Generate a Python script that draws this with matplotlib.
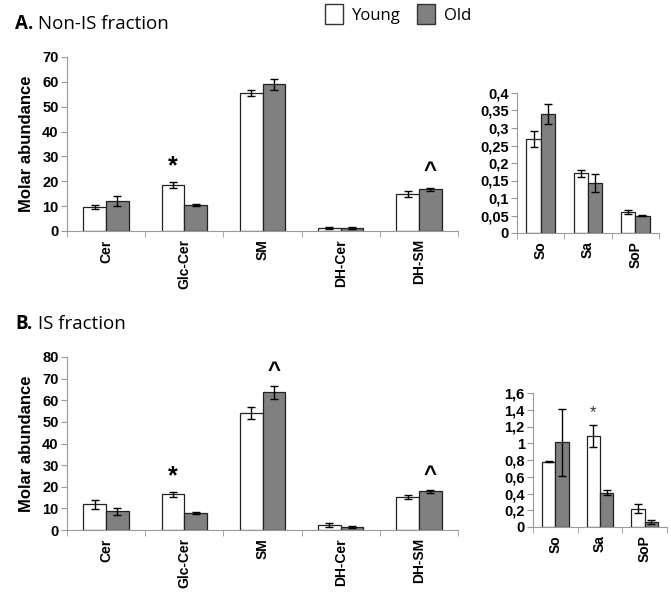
import numpy as np
import matplotlib
matplotlib.use('Agg')
import matplotlib.pyplot as plt
from matplotlib.ticker import FuncFormatter, FixedLocator
from matplotlib.patches import Patch

# data
lipids = ['Cer', 'Glc-Cer', 'SM', 'DH-Cer', 'DH-SM']
bases = ['So', 'Sa', 'SoP']

a_young = [9.5, 18.5, 55.5, 1.2, 15.0]
a_young_err = [0.8, 1.2, 1.3, 0.3, 1.2]
a_old = [12.0, 10.5, 59.0, 1.3, 16.8]
a_old_err = [2.0, 0.5, 2.3, 0.5, 0.6]
a_young_b = [0.268, 0.171, 0.060]
a_young_b_err = [0.023, 0.010, 0.005]
a_old_b = [0.340, 0.143, 0.050]
a_old_b_err = [0.028, 0.026, 0.001]

b_young = [11.8, 16.5, 54.0, 2.3, 15.2]
b_young_err = [2.2, 1.1, 2.8, 0.8, 0.8]
b_old = [8.7, 8.0, 63.7, 1.2, 17.9]
b_old_err = [1.7, 0.4, 3.0, 0.5, 0.6]
b_young_b = [0.78, 1.09, 0.22]
b_young_b_err = [0.005, 0.13, 0.05]
b_old_b = [1.01, 0.41, 0.06]
b_old_b_err = [0.40, 0.03, 0.025]

W, H = 671, 594
GREY = '#808080'
SPINE = '#999999'


def box(l, r, t, b):
    return [l / W, 1 - b / H, (r - l) / W, (b - t) / H]


def comma(v, pos):
    return ('%g' % round(v, 4)).replace('.', ',')


def bars(ax, cats, young, yerr, old, oerr, ymax, step, width=0.29):
    x = np.arange(len(cats))
    ek = dict(ecolor='black', elinewidth=1, capsize=3, capthick=1)
    ax.bar(x - width / 2, young, width, yerr=yerr, color='white',
           edgecolor='#222222', linewidth=0.9, error_kw=ek)
    ax.bar(x + width / 2, old, width, yerr=oerr, color=GREY,
           edgecolor='#222222', linewidth=0.9, error_kw=ek)
    ax.set_xlim(-0.5, len(cats) - 0.5)
    ax.set_ylim(0, ymax)
    ax.set_yticks(np.arange(0, ymax + step / 2, step))
    ax.yaxis.set_major_formatter(FuncFormatter(comma))
    ax.set_xticks(x)
    ax.set_xticklabels(cats, rotation=90, fontsize=10, fontweight='bold')
    ax.xaxis.set_minor_locator(FixedLocator(np.arange(-0.5, len(cats), 1)))
    ax.tick_params(axis='x', which='major', length=0, pad=6)
    ax.tick_params(axis='x', which='minor', length=4, color=SPINE)
    ax.tick_params(axis='y', length=4, color=SPINE, labelsize=10.5, pad=2)
    for lab in ax.get_yticklabels():
        lab.set_fontweight('bold')
    for s in ['top', 'right']:
        ax.spines[s].set_visible(False)
    for s in ['left', 'bottom']:
        ax.spines[s].set_color(SPINE)
    return x


plt.rcParams['font.family'] = ['Liberation Sans', 'DejaVu Sans']
fig = plt.figure(figsize=(W / 100, H / 100), dpi=100)

# panel A
ax1 = fig.add_axes(box(67, 458, 57, 231))
x = bars(ax1, lipids, a_young, a_young_err, a_old, a_old_err, 70, 10)
ax1.set_ylabel('Molar abundance', fontsize=12, fontweight='bold', labelpad=6)
ax1.text(x[1] - 0.145, 26, '*', ha='center', va='center', fontsize=18, fontweight='bold')
ax1.text(x[4] + 0.145, 24, '^', ha='center', va='center', fontsize=16, fontweight='bold')

ax2 = fig.add_axes(box(517, 659, 93, 233))
bars(ax2, bases, a_young_b, a_young_b_err, a_old_b, a_old_b_err, 0.4, 0.05, width=0.3)

# panel B
ax3 = fig.add_axes(box(67, 458, 357, 530))
x = bars(ax3, lipids, b_young, b_young_err, b_old, b_old_err, 80, 10)
ax3.set_ylabel('Molar abundance', fontsize=12, fontweight='bold', labelpad=6)
ax3.text(x[1] - 0.145, 25, '*', ha='center', va='center', fontsize=18, fontweight='bold')
ax3.text(x[2] + 0.145, 73.5, '^', ha='center', va='center', fontsize=16, fontweight='bold')
ax3.text(x[4] + 0.145, 25, '^', ha='center', va='center', fontsize=16, fontweight='bold')

ax4 = fig.add_axes(box(533, 667, 393, 527))
x = bars(ax4, bases, b_young_b, b_young_b_err, b_old_b, b_old_b_err, 1.6, 0.2, width=0.3)
ax4.text(x[1] - 0.15, 1.37, '*', ha='center', va='center', fontsize=12, color='#333333')

# titles
for ypix, bold, rest in [(24, 'A.', ' Non-IS fraction'), (324, 'B.', ' IS fraction')]:
    fig.text(15 / W, 1 - ypix / H, bold, fontsize=13.5, fontweight='bold',
             family=['Open Sans', 'DejaVu Sans'], va='center')
    fig.text(33 / W, 1 - ypix / H, rest, fontsize=13.5,
             family=['Open Sans', 'DejaVu Sans'], va='center')

# legend
handles = [Patch(facecolor='white', edgecolor='#333333', label='Young'),
           Patch(facecolor=GREY, edgecolor='#333333', label='Old')]
fig.legend(handles=handles, loc='center', bbox_to_anchor=(398 / W, 1 - 14 / H),
           ncol=2, frameon=False, handlelength=1.1, handleheight=1.4,
           columnspacing=1.0, handletextpad=0.5,
           prop={'family': ['Open Sans', 'DejaVu Sans'], 'size': 12})

fig.savefig('out.png', dpi=100)
